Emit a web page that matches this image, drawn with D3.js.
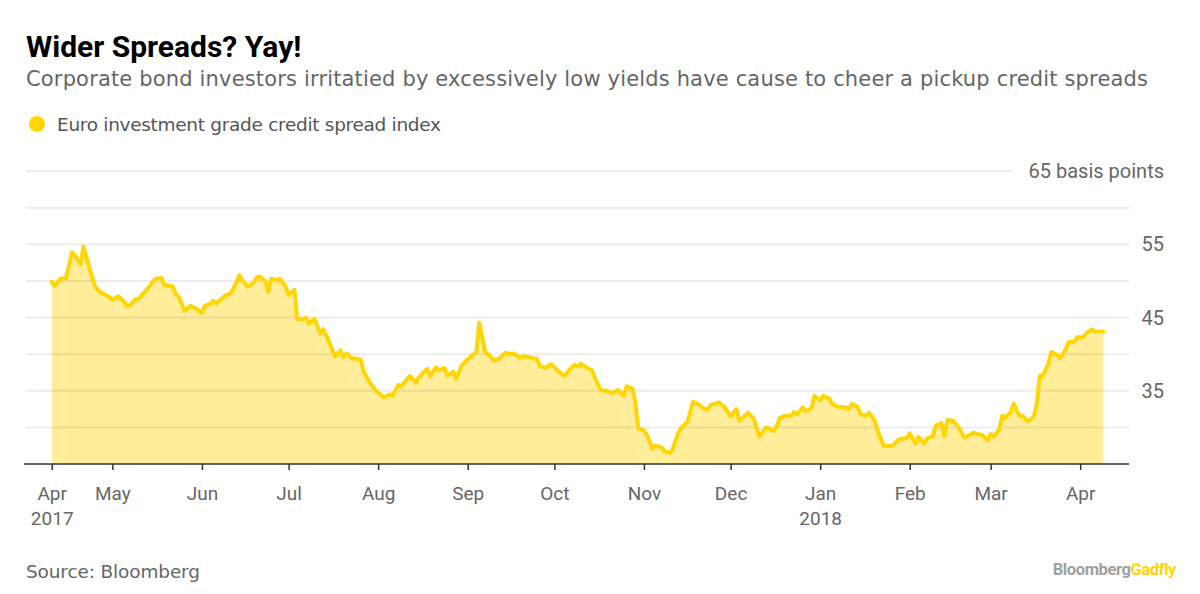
<!DOCTYPE html>
<html>
<head>
<meta charset="utf-8">
<script src="https://cdn.jsdelivr.net/npm/d3@7/dist/d3.min.js"></script>
<style>
  html, body { margin: 0; padding: 0; background: #fff; }
  svg { display: block; }
  text { font-family: Roboto, "Noto Sans", sans-serif; }
</style>
</head>
<body>
<svg id="chart" width="1200" height="594"></svg>
<script>
// ---- DATA ----
const dates = [
"2017-04-10","2017-04-11","2017-04-13","2017-04-15","2017-04-17","2017-04-18","2017-04-20","2017-04-21","2017-04-23","2017-04-25",
"2017-04-27","2017-04-30","2017-05-01","2017-05-03","2017-05-05","2017-05-06","2017-05-07","2017-05-09","2017-05-10","2017-05-13",
"2017-05-15","2017-05-16","2017-05-18","2017-05-19","2017-05-20","2017-05-22","2017-05-23","2017-05-24","2017-05-26","2017-05-28",
"2017-05-30","2017-06-01","2017-06-02","2017-06-04","2017-06-05","2017-06-06","2017-06-08","2017-06-09","2017-06-11","2017-06-12",
"2017-06-14","2017-06-15","2017-06-17","2017-06-19","2017-06-20","2017-06-21","2017-06-23","2017-06-24","2017-06-25","2017-06-27",
"2017-06-28","2017-06-30","2017-07-01","2017-07-03","2017-07-04","2017-07-06","2017-07-07","2017-07-08","2017-07-10","2017-07-12",
"2017-07-13","2017-07-15","2017-07-17","2017-07-19","2017-07-20","2017-07-21","2017-07-23","2017-07-24","2017-07-26","2017-07-27",
"2017-07-29","2017-07-31","2017-08-02","2017-08-03","2017-08-05","2017-08-06","2017-08-08","2017-08-09","2017-08-11","2017-08-12",
"2017-08-14","2017-08-15","2017-08-18","2017-08-19","2017-08-21","2017-08-22","2017-08-24","2017-08-25","2017-08-27","2017-08-28",
"2017-08-30","2017-09-01","2017-09-04","2017-09-05","2017-09-07","2017-09-09","2017-09-10","2017-09-12","2017-09-14","2017-09-16",
"2017-09-17","2017-09-19","2017-09-20","2017-09-22","2017-09-25","2017-09-26","2017-09-28","2017-09-29","2017-09-30","2017-10-02",
"2017-10-04","2017-10-05","2017-10-06","2017-10-08","2017-10-09","2017-10-10","2017-10-12","2017-10-14","2017-10-15","2017-10-17",
"2017-10-19","2017-10-21","2017-10-23","2017-10-25","2017-10-26","2017-10-28","2017-10-29","2017-10-30","2017-11-01","2017-11-02",
"2017-11-04","2017-11-05","2017-11-07","2017-11-08","2017-11-10","2017-11-11","2017-11-13","2017-11-14","2017-11-16","2017-11-18",
"2017-11-20","2017-11-22","2017-11-23","2017-11-24","2017-11-26","2017-11-27","2017-11-29","2017-12-01","2017-12-03","2017-12-04",
"2017-12-06","2017-12-07","2017-12-09","2017-12-11","2017-12-13","2017-12-14","2017-12-16","2017-12-17","2017-12-18","2017-12-20",
"2017-12-22","2017-12-23","2017-12-24","2017-12-26","2017-12-27","2017-12-29","2017-12-30","2018-01-01","2018-01-02","2018-01-04",
"2018-01-05","2018-01-07","2018-01-10","2018-01-11","2018-01-12","2018-01-14","2018-01-15","2018-01-17","2018-01-18","2018-01-20",
"2018-01-21","2018-01-23","2018-01-24","2018-01-25","2018-01-26","2018-01-28","2018-01-30","2018-01-31","2018-02-01","2018-02-03",
"2018-02-04","2018-02-06","2018-02-07","2018-02-09","2018-02-10","2018-02-12","2018-02-13","2018-02-14","2018-02-16","2018-02-18",
"2018-02-20","2018-02-22","2018-02-23","2018-02-25","2018-02-26","2018-02-28","2018-03-01","2018-03-02","2018-03-04","2018-03-05",
"2018-03-06","2018-03-08","2018-03-09","2018-03-11","2018-03-12","2018-03-14","2018-03-16","2018-03-17","2018-03-18","2018-03-19",
"2018-03-21","2018-03-22","2018-03-24","2018-03-25","2018-03-27","2018-03-28","2018-03-30","2018-03-31","2018-04-02","2018-04-03",
"2018-04-05","2018-04-06","2018-04-09"
];
const spreadValues = [
49.9,49.3,50.3,50.4,53.9,53.5,52.3,54.7,51.9,49.2,
48.4,47.8,47.4,47.9,47.2,46.6,46.6,47.5,47.5,48.8,
49.9,50.3,50.4,49.4,49.4,49.2,48.1,47.8,45.9,46.6,
46.2,45.6,46.6,46.9,47.3,46.9,47.6,48.0,48.3,49.0,
50.8,50.0,49.2,49.8,50.5,50.6,49.9,48.5,50.3,50.1,
50.3,49.2,48.1,48.8,44.8,44.8,45.0,44.2,44.8,42.8,
43.4,41.7,39.7,40.5,39.6,40.1,39.4,39.4,39.2,37.6,
36.2,35.1,34.4,34.1,34.5,34.3,35.8,35.6,36.6,37.0,
36.1,36.8,38.0,37.0,38.2,37.8,38.1,37.1,37.6,36.6,
38.5,39.3,40.3,44.3,40.3,39.6,39.1,39.4,40.2,40.0,
40.1,39.5,39.7,39.6,39.3,38.4,38.1,38.5,38.6,37.8,
37.1,37.2,37.8,38.5,38.3,38.7,38.2,37.8,36.8,35.1,
35.0,34.7,35.1,34.3,35.6,35.3,33.5,29.9,29.6,29.0,
27.1,27.5,27.3,26.8,26.5,27.1,29.4,30.0,30.7,33.5,
33.1,32.5,32.4,33.0,33.3,33.4,32.7,31.5,32.5,30.9,
31.6,32.0,31.2,28.7,29.9,29.9,29.5,30.2,31.3,31.6,
31.6,32.1,31.8,32.7,32.2,32.6,34.3,33.7,34.3,34.0,
33.3,32.8,32.7,32.5,33.2,32.8,31.8,31.6,32.0,30.8,
29.4,27.5,27.4,27.5,27.5,28.3,28.5,28.5,29.2,27.8,
28.7,27.8,28.5,28.8,30.2,30.6,28.8,31.0,30.9,29.9,
28.6,29.0,29.3,29.0,29.0,28.2,29.1,28.7,29.7,31.6,
31.3,32.1,33.2,31.5,31.6,30.8,31.5,33.3,37.0,37.0,
38.7,40.3,39.9,39.4,40.7,41.7,41.7,42.3,42.3,42.8,
43.4,43.1,43.1
];
const xDomain = ["2017-04-10", "2018-04-09"];
const xTickDates = ["2017-04-10","2017-05-01","2017-06-01","2017-07-01","2017-08-01","2017-09-01","2017-10-01","2017-11-01","2017-12-01","2018-01-01","2018-02-01","2018-03-01","2018-04-01"];
const xTickLabels = ["Apr","May","Jun","Jul","Aug","Sep","Oct","Nov","Dec","Jan","Feb","Mar","Apr"];
const xTickYears  = ["2017","","","","","","","","","2018","","",""];
const yDomain = [25, 65];
const yGridValues = [25,30,35,40,45,50,55,60,65];
const yLabelValues = [35,45,55,65];
const yTopSuffix = " basis points";

const titleText = "Wider Spreads? Yay!";
const subtitleText = "Corporate bond investors irritatied by excessively low yields have cause to cheer a pickup credit spreads";
const legendText = "Euro investment grade credit spread index";
const sourceText = "Source: Bloomberg";

// ---- CHART ----
const svg = d3.select("#chart");
const parse = d3.utcParse("%Y-%m-%d");
const data = dates.map((d, i) => ({ date: parse(d), value: spreadValues[i] }));

const x = d3.scaleUtc().domain(xDomain.map(parse)).range([51.7, 1103.3]);
const y = d3.scaleLinear().domain(yDomain).range([464, 171]);

const LINE = "#FFD600";
const AREA = "#FFED99";
const BODY_FONT = "'DejaVu Sans', 'Noto Sans', sans-serif";

// stretch/squeeze text to a target width with letter-spacing
function fitWidth(sel, target) {
  const node = sel.node();
  const n = sel.text().length;
  const L = node.getComputedTextLength();
  sel.style("letter-spacing", ((target - L) / (n - 1)) + "px");
}

// title block
svg.append("text").attr("x", 26).attr("y", 57)
  .style("font-size", "30px").style("font-weight", 700).attr("fill", "#000")
  .text(titleText);
const sub = svg.append("text").attr("x", 26).attr("y", 86)
  .style("font-family", BODY_FONT).style("font-size", "21px").attr("fill", "#666")
  .text(subtitleText);
fitWidth(sub, 1122);
svg.append("circle").attr("cx", 37).attr("cy", 124).attr("r", 8).attr("fill", LINE);
const leg = svg.append("text").attr("x", 57).attr("y", 131)
  .style("font-family", BODY_FONT).style("font-size", "18.5px").attr("fill", "#555")
  .text(legendText);
fitWidth(leg, 384);

// area
const area = d3.area().x(d => x(d.date)).y0(y(yDomain[0])).y1(d => y(d.value));
svg.append("path").datum(data).attr("d", area).attr("fill", AREA);

// gridlines
const grid = svg.append("g");
yGridValues.filter(v => v > yDomain[0]).forEach(v => {
  grid.append("line")
    .attr("x1", 26).attr("x2", v === 65 ? 1013 : 1129)
    .attr("y1", y(v)).attr("y2", y(v))
    .attr("stroke", "rgba(0,0,0,0.075)").attr("stroke-width", 2);
});

// line
const line = d3.line().x(d => x(d.date)).y(d => y(d.value));
svg.append("path").datum(data).attr("d", line)
  .attr("fill", "none").attr("stroke", LINE).attr("stroke-width", 4)
  .attr("stroke-linejoin", "round").attr("stroke-linecap", "round");

// y labels (right)
svg.append("g").selectAll("text").data(yLabelValues).join("text")
  .attr("x", 1164).attr("y", v => y(v) + 7)
  .attr("text-anchor", "end")
  .style("font-size", "20px").attr("fill", "#666")
  .text(v => v === 65 ? v + yTopSuffix : v);

// x axis
const xAxis = d3.axisBottom(x)
  .tickValues(xTickDates.map(parse))
  .tickSize(6).tickPadding(8)
  .tickFormat((d, i) => xTickLabels[i]);
const gx = svg.append("g").attr("transform", "translate(0,464)").call(xAxis);
gx.select(".domain").remove();
gx.insert("line", ":first-child").attr("x1", 24).attr("x2", 1129).attr("y1", 0).attr("y2", 0)
  .attr("stroke", "#333").attr("stroke-width", 1.5);
gx.selectAll(".tick line").attr("stroke", "#333").attr("stroke-width", 1.5);
gx.selectAll(".tick text")
  .attr("y", 36).attr("dy", null)
  .style("font-size", "19px").style("font-family", "Roboto, sans-serif").attr("fill", "#666");
gx.selectAll(".tick").each(function(d, i) {
  if (xTickYears[i]) {
    d3.select(this).append("text").attr("y", 61).attr("text-anchor", "middle")
      .style("font-size", "19px").style("font-family", "Roboto, sans-serif").attr("fill", "#666")
      .text(xTickYears[i]);
  }
});

// footer
const src = svg.append("text").attr("x", 26).attr("y", 578)
  .style("font-family", BODY_FONT).style("font-size", "18.5px").attr("fill", "#666").text(sourceText);
fitWidth(src, 174);
const logo = svg.append("text").attr("x", 1176).attr("y", 575).attr("text-anchor", "end")
  .style("font-size", "16.5px").style("font-weight", 700).style("letter-spacing", "-0.4px");
logo.append("tspan").attr("fill", "#a0a0a0").text("Bloomberg");
logo.append("tspan").attr("fill", "#FFD600").text("Gadfly");
</script>
</body>
</html>
